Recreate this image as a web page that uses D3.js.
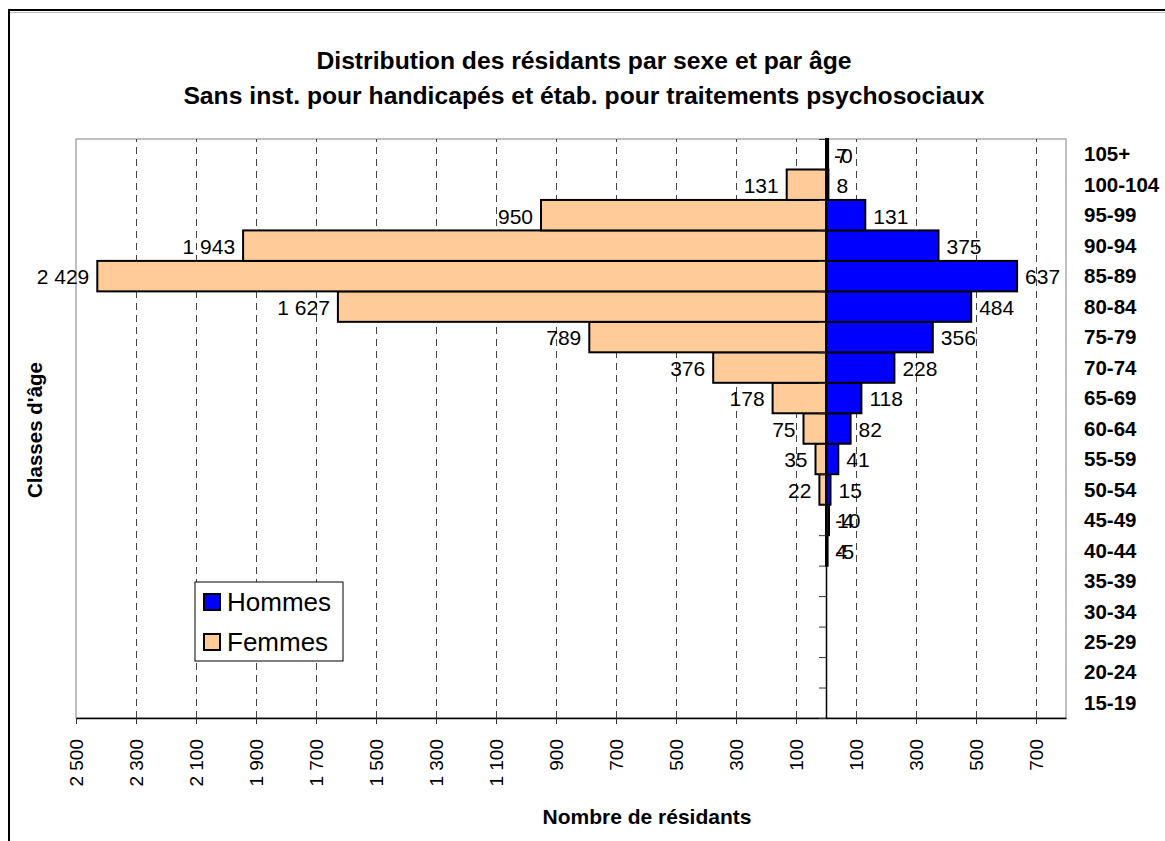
<!DOCTYPE html>
<html>
<head>
<meta charset="utf-8">
<script src="https://cdn.jsdelivr.net/npm/d3@7"></script>
<style>
  body { margin: 0; background: #fff; }
  svg { display: block; font-family: "Liberation Sans", Arial, sans-serif; }
</style>
</head>
<body>
<svg id="chart"></svg>
<script>
// age classes, from youngest to oldest (as in the source sheet)
var ageClasses = ["15-19","20-24","25-29","30-34","35-39","40-44","45-49","50-54","55-59","60-64",
                  "65-69","70-74","75-79","80-84","85-89","90-94","95-99","100-104","105+"];

// Hommes: positive values
var hommes = [null,null,null,null,null,4,10,15,41,82,118,228,356,484,637,375,131,8,7];
// Femmes: stored negative (left side), a few entries are positive in the sheet
var femmes = [null,null,null,null,null,5,4,-22,-35,-75,-178,-376,-789,-1627,-2429,-1943,-950,-131,0];

var xTicks = d3.range(-2500, 801, 200);
var seriesNames = ["Hommes", "Femmes"];

var titleLines = ["Distribution des résidants par sexe et par âge",
                  "Sans inst. pour handicapés et étab. pour traitements psychosociaux"];

var svgWidth = 1165, svgHeight = 841;
var plot = {left: 76, right: 1066, top: 139, bottom: 718};

var svg = d3.select('#chart')
    .attr('width', svgWidth)
    .attr('height', svgHeight);

// number format with a space as thousands separator
var fr = d3.formatLocale({decimal: ",", thousands: "\u00a0", grouping: [3], currency: ["", ""]});
var fmt = fr.format(",d");

// chart area frame
svg.append('rect')
    .attr('x', 9).attr('y', 10)
    .attr('width', 1300).attr('height', 1000)
    .attr('fill', 'none')
    .attr('stroke', '#000')
    .attr('stroke-width', 2);
svg.append('line')
    .attr('x1', 10).attr('x2', svgWidth)
    .attr('y1', 12.5).attr('y2', 12.5)
    .attr('stroke', '#bbb').attr('stroke-width', 1);

// title
svg.selectAll('text.title')
    .data(titleLines)
    .enter().append('text')
    .attr('class', 'title')
    .attr('x', 584)
    .attr('y', (d, i) => 69 + i * 35)
    .attr('text-anchor', 'middle')
    .attr('font-size', '24.7px')
    .attr('font-weight', 'bold')
    .text(d => d);

var x = d3.scaleLinear()
    .domain([-2500, 800])
    .range([plot.left, plot.right]);

var y = d3.scaleBand()
    .domain(ageClasses.slice().reverse())
    .range([plot.top, plot.bottom])
    .padding(0);

// plot area border
svg.append('rect')
    .attr('x', plot.left).attr('y', plot.top)
    .attr('width', plot.right - plot.left)
    .attr('height', plot.bottom - plot.top)
    .attr('fill', 'none')
    .attr('stroke', '#808080')
    .attr('stroke-width', 1);

// dashed vertical gridlines
var grid = svg.append('g')
    .attr('transform', 'translate(0,' + plot.bottom + ')')
    .call(d3.axisBottom(x)
        .tickValues(xTicks.filter(d => d > -2500))
        .tickSize(-(plot.bottom - plot.top))
        .tickFormat(''));
grid.select('.domain').remove();
grid.selectAll('line')
    .attr('stroke', '#444')
    .attr('stroke-dasharray', '7,5');

// bars
function drawBars(values, color) {
    svg.append('g')
        .selectAll('rect')
        .data(values.map((v, i) => ({age: ageClasses[i], v: v})).filter(d => d.v !== null))
        .enter().append('rect')
        .attr('x', d => x(Math.min(0, d.v)))
        .attr('y', d => y(d.age))
        .attr('width', d => Math.abs(x(d.v) - x(0)))
        .attr('height', y.bandwidth())
        .attr('fill', color)
        .attr('stroke', '#000')
        .attr('stroke-width', 2);
}
drawBars(femmes, '#FFCC99');
drawBars(hommes, '#0000FF');

// x axis
var xAxis = svg.append('g')
    .attr('transform', 'translate(0,' + plot.bottom + ')')
    .call(d3.axisBottom(x)
        .tickValues(xTicks)
        .tickSize(6)
        .tickSizeOuter(0)
        .tickFormat(d => fmt(Math.abs(d))));
xAxis.select('.domain').attr('stroke', '#000').attr('stroke-width', 1.5);
xAxis.selectAll('.tick line').attr('stroke', '#333');
xAxis.selectAll('.tick text')
    .attr('font-size', '19px')
    .attr('font-family', '"Liberation Sans", Arial, sans-serif')
    .attr('fill', '#000')
    .attr('transform', 'rotate(-90)')
    .attr('x', -21)
    .attr('y', 0)
    .attr('dy', '0.35em')
    .attr('text-anchor', 'end');

// vertical axis at zero, ticks between classes
var yEdges = d3.scaleLinear()
    .domain([0, ageClasses.length])
    .range([plot.top, plot.bottom]);
var yAxis = svg.append('g')
    .attr('transform', 'translate(' + x(0) + ',0)')
    .call(d3.axisLeft(yEdges)
        .ticks(ageClasses.length)
        .tickSize(7)
        .tickSizeOuter(0)
        .tickFormat(''));
yAxis.select('.domain').attr('stroke', '#000').attr('stroke-width', 1.5);
yAxis.selectAll('.tick line').attr('stroke', '#333');

// data labels, outside end of each bar
function drawLabels(values, textOf) {
    svg.append('g')
        .selectAll('text')
        .data(values.map((v, i) => ({age: ageClasses[i], v: v})).filter(d => d.v !== null))
        .enter().append('text')
        .attr('x', d => d.v < 0 ? x(d.v) - 8 : x(d.v) + 8)
        .attr('y', d => y(d.age) + y.bandwidth() / 2 + 1)
        .attr('dy', '0.35em')
        .attr('text-anchor', d => d.v < 0 ? 'end' : 'start')
        .attr('font-size', '21px')
        .text(textOf);
}
drawLabels(femmes, d => d.v < 0 ? fmt(-d.v) : '-' + fmt(d.v));
drawLabels(hommes, d => fmt(d.v));

// category labels on the right
svg.append('g')
    .selectAll('text')
    .data(ageClasses)
    .enter().append('text')
    .attr('x', 1084)
    .attr('y', d => y(d) + y.bandwidth() / 2)
    .attr('dy', '0.35em')
    .attr('font-size', '20.5px')
    .attr('font-weight', 'bold')
    .text(d => d);

// axis titles
svg.append('text')
    .attr('x', 647)
    .attr('y', 824)
    .attr('text-anchor', 'middle')
    .attr('font-size', '21px')
    .attr('font-weight', 'bold')
    .text('Nombre de résidants');

svg.append('text')
    .attr('transform', 'translate(42,430) rotate(-90)')
    .attr('text-anchor', 'middle')
    .attr('font-size', '20.5px')
    .attr('font-weight', 'bold')
    .text("Classes d'âge");

// legend
var legend = svg.append('g').attr('transform', 'translate(195,582)');
legend.append('rect')
    .attr('width', 148).attr('height', 79)
    .attr('fill', '#fff')
    .attr('stroke', '#000')
    .attr('stroke-width', 1);
var colors = {Hommes: '#0000FF', Femmes: '#FFCC99'};
var item = legend.selectAll('g.item')
    .data(seriesNames)
    .enter().append('g')
    .attr('class', 'item')
    .attr('transform', (d, i) => 'translate(0,' + (20 + i * 40) + ')');
item.append('rect')
    .attr('x', 9).attr('y', -8)
    .attr('width', 16).attr('height', 16)
    .attr('fill', d => colors[d])
    .attr('stroke', '#000')
    .attr('stroke-width', 2);
item.append('text')
    .attr('x', 32)
    .attr('dy', '0.35em')
    .attr('font-size', '26px')
    .text(d => d);
</script>
</body>
</html>
